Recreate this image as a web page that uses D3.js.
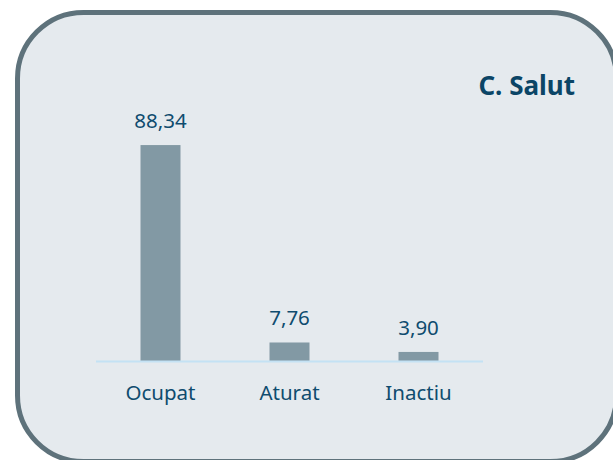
<!DOCTYPE html>
<html>
<head>
<meta charset="utf-8">
<script src="https://cdn.jsdelivr.net/npm/d3@7"></script>
<style>
  body { margin: 0; background: #ffffff; }
  svg { display: block; }
</style>
</head>
<body>
<svg id="chart"></svg>
<script>
// data
const categories = ['Ocupat', 'Aturat', 'Inactiu'];
const values = [88.34, 7.76, 3.90];
const title = 'C. Salut';

const W = 613, H = 460;
const fontFamily = "'Noto Sans', 'Open Sans', sans-serif";

const svg = d3.select('#chart')
    .attr('width', W)
    .attr('height', H);

// rounded panel (runs off the right and bottom edges, like the original)
svg.append('rect')
    .attr('x', 17.5)
    .attr('y', 12.5)
    .attr('width', 599)
    .attr('height', 449)
    .attr('rx', 66)
    .attr('ry', 66)
    .attr('fill', '#e5eaee')
    .attr('stroke', '#5e727b')
    .attr('stroke-width', 5);

const baseY = 361.5;

const x = d3.scaleBand()
    .domain(categories)
    .range([96, 483])
    .paddingInner(0.69)
    .paddingOuter(0.345);

const y = d3.scaleLinear()
    .domain([0, 100])
    .range([baseY, baseY - 245]);

const data = categories.map((c, i) => ({ cat: c, val: values[i] }));

// bars
svg.selectAll('rect.bar')
    .data(data)
    .enter()
    .append('rect')
    .attr('class', 'bar')
    .attr('x', d => x(d.cat))
    .attr('y', d => y(d.val))
    .attr('width', x.bandwidth())
    .attr('height', d => baseY - y(d.val))
    .attr('fill', '#8299a4');

// baseline
svg.append('line')
    .attr('x1', x.range()[0])
    .attr('x2', x.range()[1])
    .attr('y1', baseY)
    .attr('y2', baseY)
    .attr('stroke', '#c4e2f4')
    .attr('stroke-width', 2);

// value labels
svg.selectAll('text.val')
    .data(data)
    .enter()
    .append('text')
    .attr('class', 'val')
    .attr('x', d => x(d.cat) + x.bandwidth() / 2)
    .attr('y', d => y(d.val) - 17)
    .attr('text-anchor', 'middle')
    .attr('font-family', fontFamily)
    .attr('font-size', 20.5)
    .attr('fill', '#0f4c6e')
    .text(d => d.val.toFixed(2).replace('.', ','));

// category axis labels
const xAxis = d3.axisBottom(x).tickSize(0).tickPadding(0);
const xAxisG = svg.append('g')
    .attr('transform', `translate(0,${baseY})`)
    .call(xAxis);
xAxisG.select('.domain').remove();
xAxisG.selectAll('text')
    .attr('dy', 0)
    .attr('y', 38.5)
    .attr('font-family', fontFamily)
    .attr('font-size', 20.5)
    .attr('fill', '#0f4c6e');

// title
svg.append('text')
    .attr('x', 575)
    .attr('y', 95)
    .attr('text-anchor', 'end')
    .attr('font-family', fontFamily)
    .attr('font-size', 26)
    .attr('font-weight', 'bold')
    .attr('fill', '#0b4566')
    .text(title);
</script>
</body>
</html>
